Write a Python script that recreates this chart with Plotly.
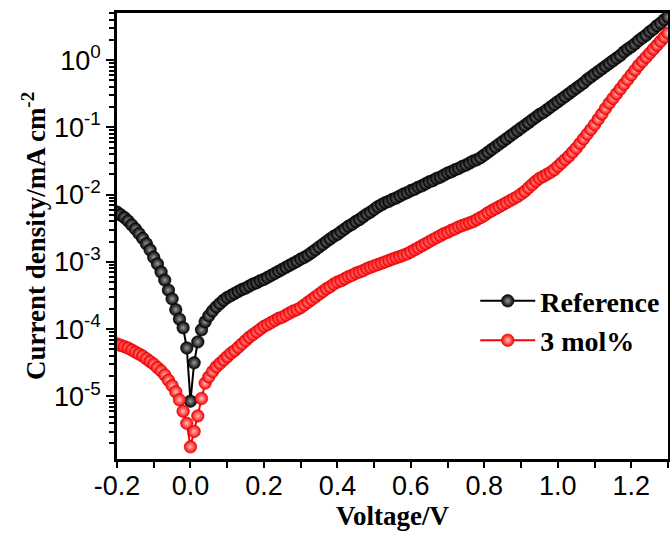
import plotly.graph_objects as go

voltage = [
    -0.20, -0.19, -0.18, -0.17, -0.16, -0.15, -0.14, -0.13, -0.12, -0.11,
    -0.10, -0.09, -0.08, -0.07, -0.06, -0.05, -0.04, -0.03, -0.02, -0.01,
    0.00,
    0.01, 0.02, 0.03, 0.04, 0.05, 0.06, 0.07, 0.08, 0.09, 0.10,
    0.11, 0.12, 0.13, 0.14, 0.15, 0.16, 0.17, 0.18, 0.19, 0.20,
    0.21, 0.22, 0.23, 0.24, 0.25, 0.26, 0.27, 0.28, 0.29, 0.30,
    0.31, 0.32, 0.33, 0.34, 0.35, 0.36, 0.37, 0.38, 0.39, 0.40,
    0.41, 0.42, 0.43, 0.44, 0.45, 0.46, 0.47, 0.48, 0.49, 0.50,
    0.51, 0.52, 0.53, 0.54, 0.55, 0.56, 0.57, 0.58, 0.59, 0.60,
    0.61, 0.62, 0.63, 0.64, 0.65, 0.66, 0.67, 0.68, 0.69, 0.70,
    0.71, 0.72, 0.73, 0.74, 0.75, 0.76, 0.77, 0.78, 0.79, 0.80,
    0.81, 0.82, 0.83, 0.84, 0.85, 0.86, 0.87, 0.88, 0.89, 0.90,
    0.91, 0.92, 0.93, 0.94, 0.95, 0.96, 0.97, 0.98, 0.99, 1.00,
    1.01, 1.02, 1.03, 1.04, 1.05, 1.06, 1.07, 1.08, 1.09, 1.10,
    1.11, 1.12, 1.13, 1.14, 1.15, 1.16, 1.17, 1.18, 1.19, 1.20,
    1.21, 1.22, 1.23, 1.24, 1.25, 1.26, 1.27, 1.28, 1.29, 1.30,
]

# current density in mA cm^-2
ref_current = [
    5.50e-3, 5.01e-3, 4.57e-3, 4.07e-3, 3.55e-3, 3.09e-3, 2.63e-3, 2.24e-3, 1.86e-3, 1.51e-3,
    1.17e-3, 9.33e-4, 7.08e-4, 5.37e-4, 3.80e-4, 2.82e-4, 1.95e-4, 1.41e-4, 1.05e-4, 5.25e-5,
    8.51e-6,
    3.16e-5, 6.46e-5, 9.77e-5, 1.29e-4, 1.58e-4, 1.86e-4, 2.14e-4, 2.40e-4, 2.69e-4, 2.95e-4,
    3.16e-4, 3.39e-4, 3.63e-4, 3.89e-4, 4.07e-4, 4.37e-4, 4.68e-4, 4.90e-4, 5.25e-4, 5.50e-4,
    5.89e-4, 6.31e-4, 6.76e-4, 7.24e-4, 7.76e-4, 8.32e-4, 8.91e-4, 9.55e-4, 1.02e-3, 1.10e-3,
    1.17e-3, 1.26e-3, 1.38e-3, 1.51e-3, 1.66e-3, 1.82e-3, 2.00e-3, 2.19e-3, 2.40e-3, 2.57e-3,
    2.82e-3, 3.09e-3, 3.39e-3, 3.63e-3, 3.98e-3, 4.27e-3, 4.68e-3, 5.13e-3, 5.50e-3, 6.03e-3,
    6.61e-3, 7.08e-3, 7.59e-3, 7.94e-3, 8.51e-3, 8.91e-3, 9.55e-3, 1.02e-2, 1.07e-2, 1.15e-2,
    1.20e-2, 1.29e-2, 1.35e-2, 1.45e-2, 1.55e-2, 1.62e-2, 1.74e-2, 1.82e-2, 1.95e-2, 2.09e-2,
    2.19e-2, 2.34e-2, 2.45e-2, 2.63e-2, 2.75e-2, 2.95e-2, 3.16e-2, 3.31e-2, 3.55e-2, 3.89e-2,
    4.27e-2, 4.68e-2, 5.13e-2, 5.62e-2, 6.17e-2, 6.76e-2, 7.41e-2, 8.13e-2, 8.91e-2, 9.77e-2,
    0.107, 0.117, 0.129, 0.141, 0.155, 0.166, 0.182, 0.200, 0.219, 0.240,
    0.263, 0.288, 0.316, 0.347, 0.380, 0.417, 0.457, 0.513, 0.562, 0.617,
    0.676, 0.741, 0.813, 0.891, 0.977, 1.07, 1.17, 1.32, 1.45, 1.58,
    1.74, 1.95, 2.14, 2.34, 2.63, 2.88, 3.24, 3.55, 3.98, 4.37,
]

mol3_current = [
    6.03e-5, 5.75e-5, 5.50e-5, 5.25e-5, 4.90e-5, 4.57e-5, 4.27e-5, 3.98e-5, 3.63e-5, 3.31e-5,
    3.02e-5, 2.69e-5, 2.40e-5, 2.09e-5, 1.74e-5, 1.45e-5, 1.17e-5, 8.91e-6, 6.03e-6, 3.98e-6,
    1.78e-6,
    3.02e-6, 5.13e-6, 9.33e-6, 1.58e-5, 1.95e-5, 2.34e-5, 2.75e-5, 3.09e-5, 3.47e-5, 3.89e-5,
    4.37e-5, 4.79e-5, 5.37e-5, 6.03e-5, 6.76e-5, 7.59e-5, 8.32e-5, 9.12e-5, 1.00e-4, 1.10e-4,
    1.17e-4, 1.26e-4, 1.35e-4, 1.45e-4, 1.51e-4, 1.62e-4, 1.74e-4, 1.86e-4, 1.95e-4, 2.09e-4,
    2.29e-4, 2.51e-4, 2.75e-4, 3.02e-4, 3.31e-4, 3.63e-4, 3.98e-4, 4.27e-4, 4.68e-4, 5.01e-4,
    5.25e-4, 5.62e-4, 6.03e-4, 6.31e-4, 6.76e-4, 7.08e-4, 7.41e-4, 7.94e-4, 8.32e-4, 8.71e-4,
    9.12e-4, 9.55e-4, 1.00e-3, 1.05e-3, 1.10e-3, 1.15e-3, 1.20e-3, 1.26e-3, 1.32e-3, 1.41e-3,
    1.51e-3, 1.62e-3, 1.74e-3, 1.86e-3, 2.00e-3, 2.14e-3, 2.29e-3, 2.45e-3, 2.63e-3, 2.75e-3,
    2.95e-3, 3.09e-3, 3.31e-3, 3.47e-3, 3.63e-3, 3.80e-3, 3.98e-3, 4.27e-3, 4.57e-3, 4.90e-3,
    5.37e-3, 5.75e-3, 6.17e-3, 6.61e-3, 7.08e-3, 7.59e-3, 8.13e-3, 8.71e-3, 9.33e-3, 1.02e-2,
    1.12e-2, 1.26e-2, 1.41e-2, 1.58e-2, 1.74e-2, 1.86e-2, 2.00e-2, 2.14e-2, 2.34e-2, 2.63e-2,
    2.95e-2, 3.31e-2, 3.72e-2, 4.27e-2, 4.90e-2, 5.75e-2, 6.76e-2, 7.94e-2, 9.33e-2, 0.110,
    0.132, 0.158, 0.191, 0.229, 0.269, 0.316, 0.372, 0.437, 0.513, 0.603,
    0.708, 0.832, 0.955, 1.10, 1.26, 1.45, 1.66, 1.91, 2.19, 2.51,
]

x_tick_vals = [-0.2, 0.0, 0.2, 0.4, 0.6, 0.8, 1.0, 1.2]
x_tick_text = ["-0.2", "0.0", "0.2", "0.4", "0.6", "0.8", "1.0", "1.2"]
y_tick_vals = [1e-5, 1e-4, 1e-3, 1e-2, 1e-1, 1e0]
y_tick_text = ["10<sup>-5</sup>", "10<sup>-4</sup>", "10<sup>-3</sup>",
               "10<sup>-2</sup>", "10<sup>-1</sup>", "10<sup>0</sup>"]

x_minor = [-0.1, 0.1, 0.3, 0.5, 0.7, 0.9, 1.1, 1.3]
y_minor = [m * 10.0 ** e for e in range(-6, 1) for m in range(2, 10)]

serif = "Times New Roman, Liberation Serif, serif"
sans = "Arial, Liberation Sans, sans-serif"

fig = go.Figure()
fig.add_trace(go.Scatter(
    x=voltage, y=ref_current, name="Reference", mode="lines+markers",
    line=dict(color="black", width=2),
    marker=dict(size=12.5, color="black", line=dict(color="black", width=0.6),
                gradient=dict(type="radial", color="#999999")),
))
fig.add_trace(go.Scatter(
    x=voltage, y=mol3_current, name="3 mol%", mode="lines+markers",
    line=dict(color="red", width=2),
    marker=dict(size=12.5, color="#ff0000", line=dict(color="#d00000", width=0.6),
                gradient=dict(type="radial", color="#ffc0c0")),
))

fig.update_layout(
    width=670, height=537,
    margin=dict(l=117, r=2, t=13, b=78, autoexpand=False),
    plot_bgcolor="white", paper_bgcolor="white",
    showlegend=True,
    legend=dict(x=0.995, xanchor="right", y=0.41, yanchor="top",
                bgcolor="rgba(0,0,0,0)", itemwidth=55,
                font=dict(family=serif, size=28, color="black", weight="bold")),
)
fig.update_xaxes(
    range=[-0.2, 1.3], showgrid=False, zeroline=False, automargin=False,
    showline=True, linecolor="black", linewidth=2.5, mirror=True,
    tickvals=x_tick_vals, ticktext=x_tick_text,
    ticks="outside", ticklen=6, tickwidth=2, tickcolor="black",
    minor=dict(tickvals=x_minor, ticks="outside", ticklen=6, tickwidth=2, tickcolor="black"),
    tickfont=dict(family=sans, size=27, color="black"),
    ticklabelstandoff=-5,
    title=dict(text="Voltage/V", standoff=6,
               font=dict(family=serif, size=27, color="black", weight="bold")),
)
fig.update_yaxes(
    type="log", range=[-5.93, 0.70], showgrid=False, zeroline=False, automargin=False,
    showline=True, linecolor="black", linewidth=2.5, mirror=True,
    tickvals=y_tick_vals, ticktext=y_tick_text,
    ticks="outside", ticklen=8, tickwidth=2, tickcolor="black",
    minor=dict(tickvals=y_minor, ticks="outside", ticklen=5, tickwidth=2, tickcolor="black"),
    tickfont=dict(family=sans, size=27, color="black"),
    title=dict(text="Current density/mA cm<sup>-2</sup>", standoff=1,
               font=dict(family=serif, size=27, color="black", weight="bold")),
)

# the page has a default 8px body margin that would shift the chart
fig.write_html("out.html", config={"displayModeBar": False},
               post_script="document.body.style.margin='0';")
